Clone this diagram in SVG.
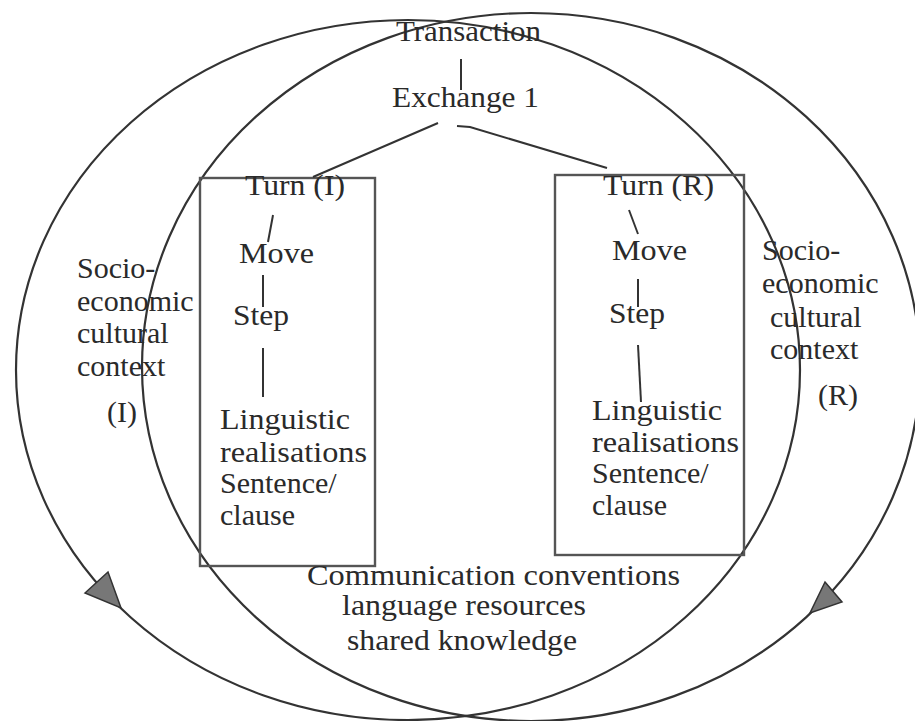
<svg xmlns="http://www.w3.org/2000/svg" width="915" height="721" viewBox="0 0 915 721">
<style>
  text { font-family: "Liberation Serif", "Times New Roman", serif; font-size: 30px; fill: #2a2a2a; }
  .ctx { fill: none; stroke: #333; stroke-width: 2.2; }
  .box { fill: none; stroke: #555; stroke-width: 2.4; }
  .ln { fill: none; stroke: #333; stroke-width: 2; }
  .head { fill: #777; stroke: #333; stroke-width: 1.5; stroke-linejoin: miter; }
</style>
<rect width="915" height="721" fill="#ffffff"/>
<g id="contexts">
  <ellipse id="context-I-circle" class="ctx" cx="408" cy="370" rx="392" ry="350"/>
  <ellipse id="context-R-circle" class="ctx" cx="531" cy="367" rx="389" ry="354"/>
  <polygon class="head" points="85,593 108,572 121,608"/>
  <polygon class="head" points="825,582 842,602 810,613"/>
</g>
<g id="box-I"><rect class="box" x="200" y="178" width="175" height="388"/></g>
<g id="box-R"><rect class="box" x="555" y="175" width="189" height="380"/></g>
<g id="connectors">
  <line class="ln" x1="461" y1="59" x2="461" y2="90"/>
  <line class="ln" x1="438" y1="123" x2="313" y2="177"/>
  <polyline class="ln" points="457,126 470,127 607,168"/>
  <line class="ln" x1="273" y1="215" x2="268" y2="242"/>
  <line class="ln" x1="263" y1="275" x2="263" y2="307"/>
  <line class="ln" x1="263" y1="348" x2="263" y2="397"/>
  <line class="ln" x1="629" y1="210" x2="638" y2="234"/>
  <line class="ln" x1="638" y1="279" x2="638" y2="307"/>
  <line class="ln" x1="638" y1="345" x2="641" y2="402"/>
</g>
<g id="transaction"><text x="396" y="41" textLength="145" lengthAdjust="spacingAndGlyphs">Transaction</text></g>
<g id="exchange"><text x="392" y="107" textLength="147" lengthAdjust="spacingAndGlyphs">Exchange 1</text></g>
<g id="turn-I"><text x="245" y="195" textLength="100" lengthAdjust="spacingAndGlyphs">Turn (I)</text></g>
<g id="move-I"><text x="239" y="263" textLength="75" lengthAdjust="spacingAndGlyphs">Move</text></g>
<g id="step-I"><text x="233" y="325" textLength="56" lengthAdjust="spacingAndGlyphs">Step</text></g>
<g id="ling-I">
  <text x="220" y="429" textLength="130" lengthAdjust="spacingAndGlyphs">Linguistic</text>
  <text x="220" y="462" textLength="147" lengthAdjust="spacingAndGlyphs">realisations</text>
  <text x="220" y="493">Sentence/</text>
  <text x="220" y="525">clause</text>
</g>
<g id="turn-R"><text x="603" y="195" textLength="111" lengthAdjust="spacingAndGlyphs">Turn (R)</text></g>
<g id="move-R"><text x="612" y="260" textLength="75" lengthAdjust="spacingAndGlyphs">Move</text></g>
<g id="step-R"><text x="609" y="323" textLength="56" lengthAdjust="spacingAndGlyphs">Step</text></g>
<g id="ling-R">
  <text x="592" y="420" textLength="130" lengthAdjust="spacingAndGlyphs">Linguistic</text>
  <text x="592" y="452" textLength="147" lengthAdjust="spacingAndGlyphs">realisations</text>
  <text x="592" y="483">Sentence/</text>
  <text x="592" y="515">clause</text>
</g>
<g id="context-I">
  <text x="77" y="278">Socio-</text>
  <text x="77" y="311">economic</text>
  <text x="77" y="343">cultural</text>
  <text x="77" y="376">context</text>
  <text x="107" y="422">(I)</text>
</g>
<g id="context-R">
  <text x="762" y="260">Socio-</text>
  <text x="762" y="293">economic</text>
  <text x="770" y="327">cultural</text>
  <text x="770" y="359">context</text>
  <text x="818" y="405">(R)</text>
</g>
<g id="shared">
  <text x="307" y="585" textLength="373" lengthAdjust="spacingAndGlyphs">Communication conventions</text>
  <text x="342" y="615" textLength="244" lengthAdjust="spacingAndGlyphs">language resources</text>
  <text x="347" y="650" textLength="230" lengthAdjust="spacingAndGlyphs">shared knowledge</text>
</g>
</svg>
